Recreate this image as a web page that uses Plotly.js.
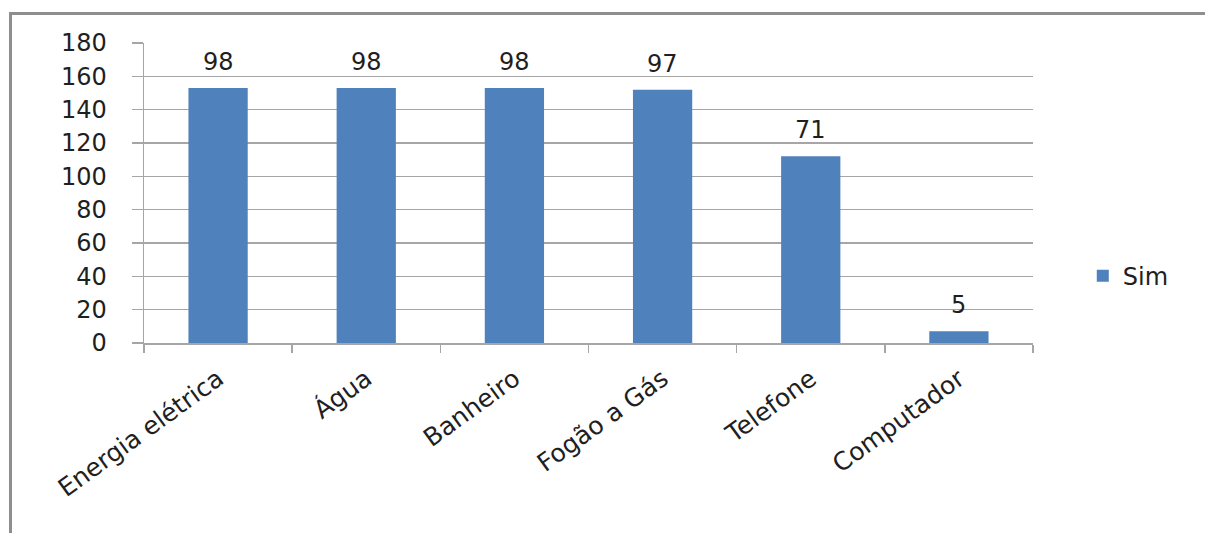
<!DOCTYPE html>
<html>
<head>
<meta charset="utf-8">
<script src="https://cdn.plot.ly/plotly-3.0.1.min.js"></script>
<style>
  html, body { margin: 0; padding: 0; background: #ffffff; overflow: hidden; }
  #chart { position: absolute; left: 0; top: 0; width: 1205px; height: 533px; }
  #frame { position: absolute; left: 9px; top: 12px; width: 1200px; height: 530px;
           border-top: 3px solid #8e8e8e; border-left: 3px solid #8e8e8e; pointer-events: none; }
</style>
</head>
<body>
<div id="chart"></div>
<div id="frame"></div>
<script>
const categories = ["Energia elétrica", "Água", "Banheiro", "Fogão a Gás", "Telefone", "Computador"];
const simValues = [153, 153, 153, 152, 112, 7];
const simPercent = [98, 98, 98, 97, 71, 5];
const yTicks = [0, 20, 40, 60, 80, 100, 120, 140, 160, 180];

const FONT = "DejaVu Sans, Verdana, sans-serif";
const TEXT = "#1f1f1f";
const GRID = "#a6a6a6";

const trace = {
  type: "bar",
  name: "Sim",
  x: categories,
  y: simValues,
  marker: { color: "#4F81BD", line: { width: 0 } },
  hoverinfo: "skip"
};

const annotations = categories.map((c, i) => ({
  x: c, y: simValues[i], xref: "x", yref: "y",
  text: String(simPercent[i]), showarrow: false,
  yanchor: "bottom", yshift: 10,
  font: { family: FONT, size: 24, color: TEXT }
}));

const layout = {
  width: 1205, height: 533,
  margin: { l: 144, r: 172, t: 43, b: 190 },
  paper_bgcolor: "#ffffff",
  plot_bgcolor: "#ffffff",
  bargap: 0.6,
  showlegend: true,
  legend: {
    x: 1.056, xanchor: "left", y: 0.223, yanchor: "middle",
    font: { family: FONT, size: 24, color: TEXT },
    bgcolor: "rgba(0,0,0,0)"
  },
  xaxis: {
    type: "category",
    showline: true, linecolor: GRID, linewidth: 1.5,
    ticks: "outside", ticklen: 8, tickcolor: GRID, tickwidth: 1.5,
    tickson: "boundaries",
    showgrid: false,
    tickangle: -36,
    ticklabelstandoff: 10,
    tickfont: { family: FONT, size: 25, color: TEXT }
  },
  yaxis: {
    range: [0, 180],
    tickvals: yTicks,
    ticktext: yTicks.map(String),
    showline: true, linecolor: GRID, linewidth: 1.5,
    ticks: "outside", ticklen: 11, tickcolor: GRID, tickwidth: 1.5,
    showgrid: true, gridcolor: GRID, gridwidth: 1.5,
    zeroline: false,
    ticklabelstandoff: 20,
    tickfont: { family: FONT, size: 24, color: TEXT }
  },
  annotations: annotations
};

Plotly.newPlot("chart", [trace], layout, { displayModeBar: false, staticPlot: true });
</script>
</body>
</html>
